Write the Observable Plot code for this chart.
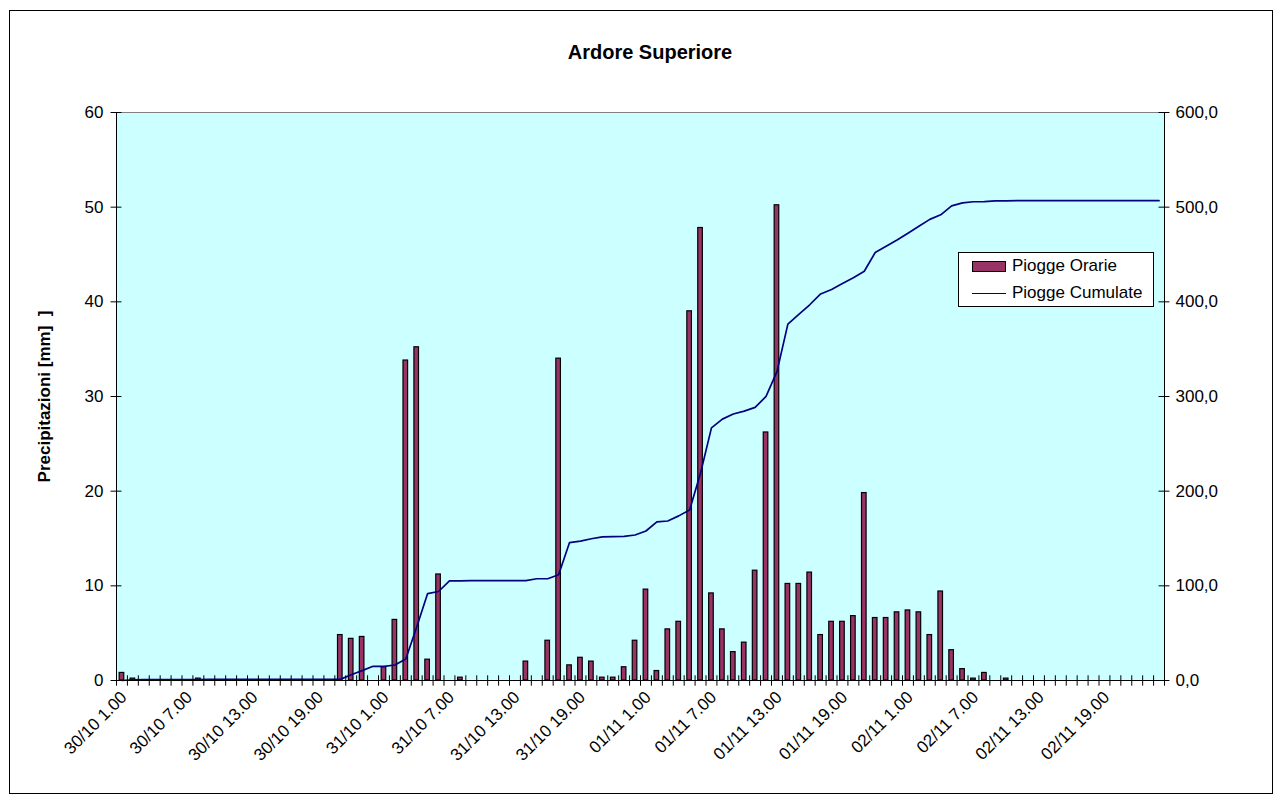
<!DOCTYPE html>
<html>
<head>
<meta charset="utf-8">
<script src="https://cdn.jsdelivr.net/npm/d3@7"></script>
<script src="https://cdn.jsdelivr.net/npm/@observablehq/plot@0.6"></script>
<style>
  html, body { margin: 0; padding: 0; background: #fff; }
  body { width: 1283px; height: 805px; position: relative; overflow: hidden; font-family: "Liberation Sans", Arial, sans-serif; }
  #border { position: absolute; left: 9px; top: 10px; width: 1264px; height: 784px; border: 1px solid #000; box-sizing: border-box; }
  #chart { position: absolute; left: 0; top: 0; }
  #title { position: absolute; left: 0; width: 1300px; top: 41px; text-align: center; font-weight: bold; font-size: 20px; color: #000; }
  #legend { position: absolute; left: 958px; top: 252px; width: 196px; height: 55px; box-sizing: border-box; border: 1px solid #000; background: #fff; font-size: 17px; }
  .item { position: absolute; left: 13px; height: 20px; display: flex; align-items: center; white-space: nowrap; }
  .sw-bar { width: 32px; height: 9px; background: #993366; border: 1px solid #000; margin-right: 6px; }
  .sw-line { width: 34px; height: 0; border-top: 1.5px solid #000080; margin-right: 6px; }
</style>
</head>
<body>
<div id="border"></div>
<div id="chart"></div>
<div id="title">Ardore Superiore</div>
<div id="legend">
  <div class="item" style="top:3px"><div class="sw-bar"></div><span>Piogge Orarie</span></div>
  <div class="item" style="top:30px"><div class="sw-line"></div><span>Piogge Cumulate</span></div>
</div>
<script>
// Days and hours making up the hourly categories
const days = ["30/10", "31/10", "01/11", "02/11"];
const hours = [1,2,3,4,5,6,7,8,9,10,11,12,13,14,15,16,17,18,19,20,21,22,23,24];
const categories = days.flatMap(d => hours.map(h => `${d} ${h}.00`));

// Piogge Orarie (mm), one per hour
const pioggeOrarie = [
  0.8, 0.2, 0, 0, 0, 0, 0, 0.2, 0, 0, 0, 0, 0, 0, 0, 0, 0, 0, 0, 0,
  4.8, 4.4, 4.6, 0, 1.4, 6.4, 33.8, 35.2, 2.2, 11.2, 0, 0.3, 0, 0, 0, 0, 0, 2.0, 0, 4.2,
  34.0, 1.6, 2.4, 2.0, 0.3, 0.3, 1.4, 4.2, 9.6, 1.0, 5.4, 6.2, 39.0, 47.8, 9.2, 5.4, 3.0, 4.0, 11.6, 26.2,
  50.2, 10.2, 10.2, 11.4, 4.8, 6.2, 6.2, 6.8, 19.8, 6.6, 6.6, 7.2, 7.4, 7.2, 4.8, 9.4, 3.2, 1.2, 0.2, 0.8,
  0, 0.2, 0, 0, 0, 0, 0, 0, 0, 0, 0, 0, 0, 0, 0, 0
];

// Piogge Cumulate (mm), one per hour
const pioggeCumulate = [
  0, 0.8, 1.0, 1.0, 1.0, 1.0, 1.0, 1.0, 1.2, 1.2, 1.2, 1.2, 1.2, 1.2, 1.2, 1.2, 1.2, 1.2, 1.2, 1.2,
  1.2, 6.0, 10.4, 15.0, 15.0, 16.4, 22.8, 56.6, 91.8, 94.0, 105.2, 105.2, 105.5, 105.5, 105.5, 105.5, 105.5, 105.5, 107.5, 107.5,
  111.7, 145.7, 147.3, 149.7, 151.7, 152.0, 152.3, 153.7, 157.9, 167.5, 168.5, 173.9, 180.1, 219.1, 266.9, 276.1, 281.5, 284.5, 288.5, 300.1,
  326.3, 376.5, 386.7, 396.9, 408.3, 413.1, 419.3, 425.5, 432.3, 452.1, 458.7, 465.3, 472.5, 479.9, 487.1, 491.9, 501.3, 504.5, 505.7, 505.9,
  506.7, 506.7, 506.9, 506.9, 506.9, 506.9, 506.9, 506.9, 506.9, 506.9, 506.9, 506.9, 506.9, 506.9, 506.9, 506.9
];

// Axis ticks
const leftTicks = [0, 10, 20, 30, 40, 50, 60];
const rightTicks = [0, 100, 200, 300, 400, 500, 600];
const labelEvery = 6;

const n = categories.length;
const bars = pioggeOrarie.map((v, i) => ({i, v})).filter(d => d.v > 0);
const cum = pioggeCumulate.map((v, i) => ({i, v}));
const labelIdx = d3.range(0, n, labelEvery);
const boundaries = d3.range(0, n + 1);
const FONT = "Liberation Sans, Arial, sans-serif";

const chart = Plot.plot({
  width: 1283,
  height: 805,
  marginLeft: 116,
  marginRight: 119,
  marginTop: 112,
  marginBottom: 125,
  style: {fontFamily: FONT, fontSize: "17px", color: "#000", background: "transparent"},
  x: {domain: [0, n], axis: null},
  y: {domain: [0, 60], axis: null},
  marks: [
    Plot.frame({fill: "#ccffff", stroke: "#808080"}),
    Plot.rect(bars, {x1: d => d.i + 0.29, x2: d => d.i + 0.71, y1: () => 0, y2: "v", fill: "#993366", stroke: "#000", strokeWidth: 1.2}),
    Plot.lineY(cum, {x: d => d.i + 0.5, y: d => d.v / 10, stroke: "#000080", strokeWidth: 1.7}),
    // axis lines
    Plot.ruleY([0], {stroke: "#000"}),
    Plot.ruleX([0], {stroke: "#000"}),
    Plot.ruleX([n], {stroke: "#000"}),
    // x ticks at category boundaries
    Plot.ruleX(boundaries, {y1: -0.6, y2: 0.5, stroke: "#000"}),
    // left / right ticks
    Plot.ruleY(leftTicks, {x1: -0.5, x2: 0.5, stroke: "#000"}),
    Plot.ruleY(rightTicks.map(t => t / 10), {x1: n - 0.5, x2: n + 0.5, stroke: "#000"}),
    // left tick labels
    Plot.text(leftTicks, {x: 0, y: d => d, text: d => String(d), textAnchor: "end", dx: -13, fontSize: 17}),
    // right tick labels
    Plot.text(rightTicks, {x: n, y: d => d / 10, text: d => d.toFixed(1).replace(".", ","), textAnchor: "start", dx: 11, fontSize: 17}),
    // x category labels
    Plot.text(labelIdx, {x: i => i + 0.5, y: 0, text: i => categories[i], rotate: -45, textAnchor: "end", dx: 2, dy: 14, fontSize: 17}),
    // y axis title
    Plot.text(["Precipitazioni [mm]  ]"], {frameAnchor: "left", textAnchor: "middle", rotate: -90, dx: -72, fontWeight: "bold", fontSize: 17})
  ]
});
document.getElementById("chart").appendChild(chart);
</script>
</body>
</html>
